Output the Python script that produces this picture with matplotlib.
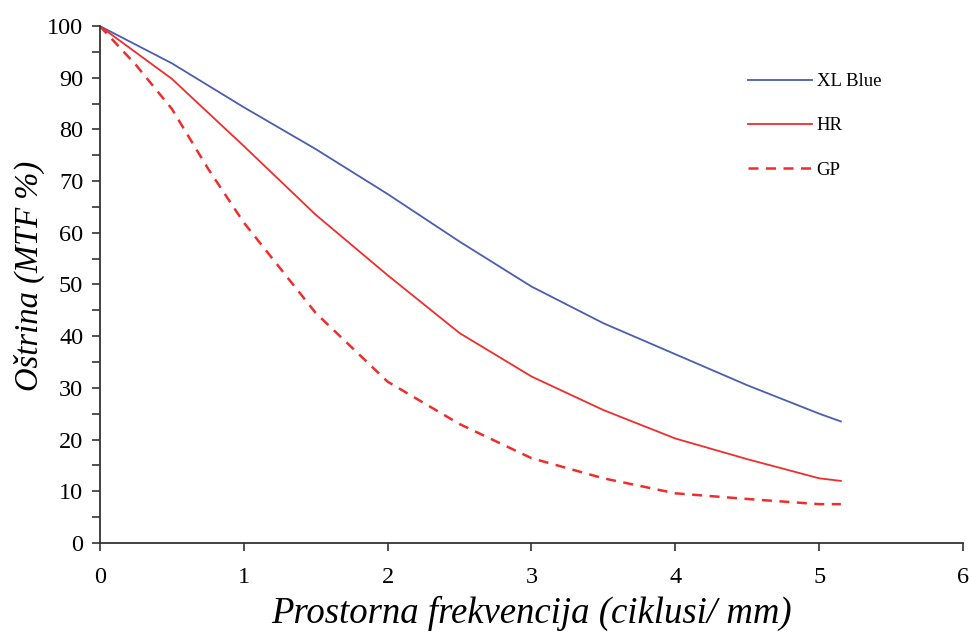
import matplotlib
matplotlib.use("Agg")
import matplotlib.pyplot as plt
from matplotlib.ticker import MultipleLocator

plt.rcParams["font.family"] = ["Liberation Serif", "DejaVu Serif"]

# spatial frequency (cycles/mm)
freq = [0, 0.5, 1, 1.5, 2, 2.5, 3, 3.5, 4, 4.5, 5, 5.15]
freq_gp = [0, 0.25, 0.5, 0.75, 1, 1.5, 2, 2.5, 3, 3.5, 4, 4.5, 5, 5.15]

# MTF %
xl_blue = [100, 92.8, 84.3, 76.2, 67.5, 58.3, 49.6, 42.5, 36.5, 30.5, 25.0, 23.5]
hr = [100, 89.8, 76.8, 63.5, 51.8, 40.6, 32.2, 25.7, 20.2, 16.2, 12.5, 12.0]
gp = [100, 92.5, 84.0, 72.5, 62.0, 44.5, 31.2, 23.0, 16.4, 12.5, 9.6, 8.5, 7.5, 7.5]

labels = ["XL Blue", "HR", "GP"]

fig = plt.figure(figsize=(9.69, 6.35), dpi=100)
ax = fig.add_axes([0.103, 0.145, 0.891, 0.814])

ax.plot(freq, xl_blue, color="#4a5db0", lw=1.3, label=labels[0])
ax.plot(freq, hr, color="#f02c2c", lw=1.3, label=labels[1])
ax.plot(freq_gp, gp, color="#f02c2c", lw=1.8, ls=(0, (4, 3)), label=labels[2])

ax.set_xlim(0, 6)
ax.set_ylim(0, 100)
ax.xaxis.set_major_locator(MultipleLocator(1))
ax.yaxis.set_major_locator(MultipleLocator(10))
ax.yaxis.set_minor_locator(MultipleLocator(5))

for side in ("top", "right"):
    ax.spines[side].set_visible(False)
for side in ("left", "bottom"):
    ax.spines[side].set_color("#333333")
    ax.spines[side].set_linewidth(1.3)

ax.tick_params(axis="both", which="both", direction="out", color="#333333",
               width=1.2, labelsize=17.5)
ax.tick_params(axis="both", which="major", length=6)
ax.tick_params(axis="y", which="minor", length=6)
ax.tick_params(axis="x", pad=11)
ax.tick_params(axis="y", pad=6)

ax.set_xlabel("Prostorna frekvencija (ciklusi/ mm)", fontsize=26.5,
              style="italic", labelpad=6)
ax.set_ylabel("Oštrina (MTF %)", fontsize=23.5, style="italic")
ax.yaxis.set_label_coords(-0.063, 0.516)

ax.legend(loc="upper left", bbox_to_anchor=(0.772, 0.885),
          bbox_transform=fig.transFigure, frameon=False, fontsize=13.5,
          handlelength=3.4, handletextpad=0.25, labelspacing=1.45,
          borderpad=0, borderaxespad=0)

fig.savefig("out.png", dpi=100)
